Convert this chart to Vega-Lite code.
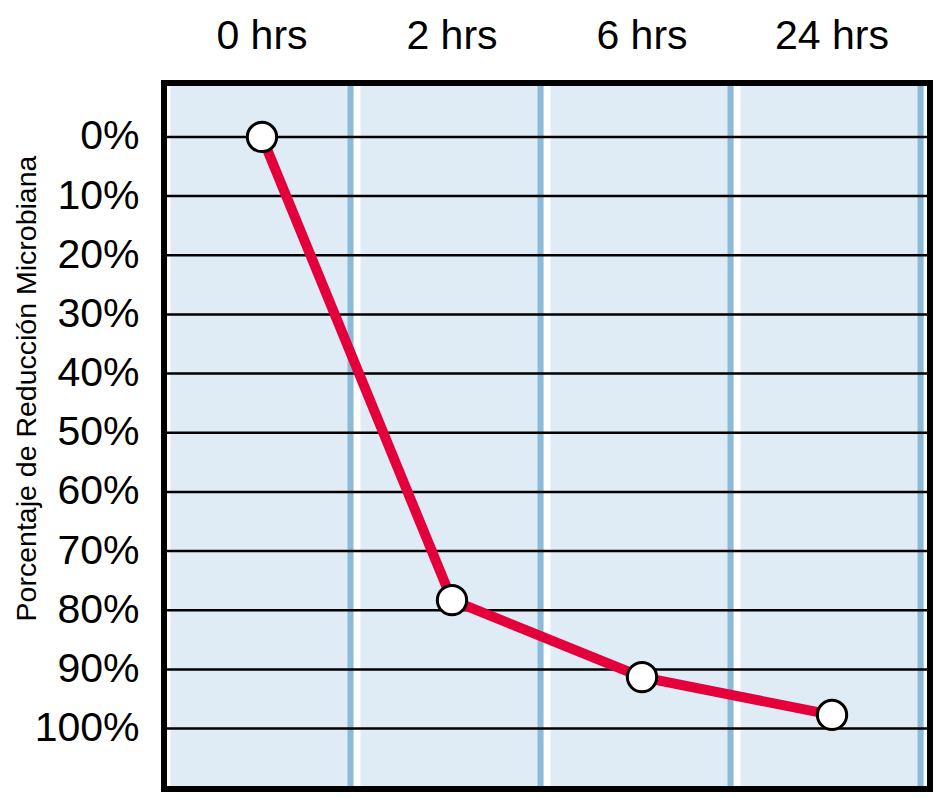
{
  "$schema": "https://vega.github.io/schema/vega-lite/v6.json",
  "width": 766,
  "height": 706,
  "autosize": {"type": "none"},
  "padding": {"left": 164, "top": 83, "right": 8, "bottom": 10},
  "background": "white",
  "config": {
    "view": {"stroke": "black", "strokeWidth": 6, "fill": "white"},
    "style": {"cell": {"strokeForeground": true}}
  },
  "datasets": {
    "reduccion": [
      {"tiempo": "0 hrs", "reduccion": 0},
      {"tiempo": "2 hrs", "reduccion": 78.3},
      {"tiempo": "6 hrs", "reduccion": 91.3},
      {"tiempo": "24 hrs", "reduccion": 97.7}
    ],
    "lineas": [
      {"reduccion": 0}, {"reduccion": 10}, {"reduccion": 20}, {"reduccion": 30},
      {"reduccion": 40}, {"reduccion": 50}, {"reduccion": 60}, {"reduccion": 70},
      {"reduccion": 80}, {"reduccion": 90}, {"reduccion": 100}
    ]
  },
  "layer": [
    {
      "data": {"name": "reduccion"},
      "mark": {"type": "rect", "fill": "#dfecf5"},
      "encoding": {
        "x": {
          "field": "tiempo", "type": "nominal",
          "sort": ["0 hrs", "2 hrs", "6 hrs", "24 hrs"],
          "scale": {"type": "band", "paddingInner": 0.0368, "paddingOuter": 0.034, "round": false},
          "axis": {
            "orient": "top", "title": null, "domain": false, "ticks": false, "tickSize": 0,
            "labelAngle": 0, "labelPadding": 35, "labelBaseline": "alphabetic",
            "labelFont": "Liberation Sans", "labelFontSize": 41, "labelColor": "black"
          }
        }
      }
    },
    {
      "data": {"name": "reduccion"},
      "mark": {"type": "rule", "stroke": "#8cbbd9", "strokeWidth": 6, "xOffset": -3},
      "encoding": {
        "x": {"field": "tiempo", "type": "nominal", "sort": ["0 hrs", "2 hrs", "6 hrs", "24 hrs"], "bandPosition": 1}
      }
    },
    {
      "data": {"name": "lineas"},
      "mark": {"type": "rule", "stroke": "black", "strokeWidth": 2.5},
      "encoding": {
        "y": {
          "field": "reduccion", "type": "quantitative",
          "scale": {"domain": [-9.12, 110.22], "reverse": true, "nice": false, "zero": false},
          "axis": {
            "values": [0, 10, 20, 30, 40, 50, 60, 70, 80, 90, 100],
            "labelExpr": "datum.value + '%'",
            "grid": false, "domain": false, "ticks": false, "tickSize": 0,
            "labelPadding": 25, "labelFont": "Liberation Sans", "labelFontSize": 41, "labelColor": "black",
            "title": "Porcentaje de Reducción Microbiana",
            "titleFont": "Liberation Sans", "titleFontSize": 28.5, "titleFontWeight": "normal", "titleColor": "black",
            "titleBaseline": "alphabetic", "titleX": -129, "titleY": 305
          }
        }
      }
    },
    {
      "data": {"name": "reduccion"},
      "mark": {"type": "line", "stroke": "#e4003b", "strokeWidth": 10},
      "encoding": {
        "x": {"field": "tiempo", "type": "nominal", "sort": ["0 hrs", "2 hrs", "6 hrs", "24 hrs"]},
        "y": {"field": "reduccion", "type": "quantitative"}
      }
    },
    {
      "data": {"name": "reduccion"},
      "mark": {"type": "point", "shape": "circle", "filled": true, "fill": "white", "stroke": "black", "strokeWidth": 3, "size": 860, "opacity": 1},
      "encoding": {
        "x": {"field": "tiempo", "type": "nominal", "sort": ["0 hrs", "2 hrs", "6 hrs", "24 hrs"]},
        "y": {"field": "reduccion", "type": "quantitative"}
      }
    }
  ]
}
